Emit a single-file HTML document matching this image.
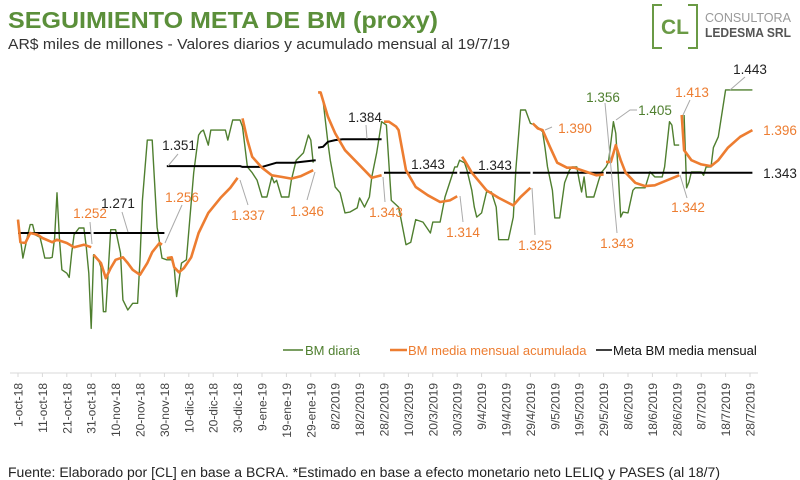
<!DOCTYPE html>
<html><head><meta charset="utf-8"><style>
html,body{margin:0;padding:0;background:#fff;}
svg{display:block;font-family:"Liberation Sans",sans-serif;}
</style></head><body>
<svg id="chart" width="800" height="480" viewBox="0 0 800 480">
<text x="8" y="28" font-size="23" font-weight="bold" fill="#5b8f3a" textLength="430" lengthAdjust="spacingAndGlyphs">SEGUIMIENTO META DE BM (proxy)</text>
<text x="8" y="49" font-size="15" fill="#333" textLength="502" lengthAdjust="spacingAndGlyphs">AR$ miles de millones - Valores diarios y acumulado mensual al 19/7/19</text>
<g>
<path d="M662,5 H653 V48 H662 M688,5 H697 V48 H688" fill="none" stroke="#6a9a45" stroke-width="2"/>
<text x="675" y="34" font-size="21" font-weight="bold" fill="#6a9a45" text-anchor="middle">CL</text>
<text x="705" y="22" font-size="12.5" fill="#999" textLength="86" lengthAdjust="spacingAndGlyphs">CONSULTORA</text>
<text x="705" y="37" font-size="13" font-weight="bold" fill="#555" textLength="86" lengthAdjust="spacingAndGlyphs">LEDESMA SRL</text>
</g>
<g id="plot"></g>
<g stroke="#aaa" stroke-width="1" fill="none">
<path d="M92,244 L90,222"/><path d="M128,232 L122,212"/><path d="M165,243 L182,205"/>
<path d="M168,166 L178,154"/><path d="M240,180 L248,205"/><path d="M315,172 L307,200"/>
<path d="M367,139 L366,125"/><path d="M383,177 L385,202"/><path d="M460,196 L463,222"/>
<path d="M532,188 L535,235"/><path d="M545,130 L552,127"/><path d="M605,103 L617,233"/>
<path d="M616,120 L630,110 L637,110"/><path d="M683,115 L690,100"/><path d="M730,90 L745,77"/>
<path d="M680,175 L687,198"/>
</g>
<g font-size="13.5" text-anchor="middle">
<text x="90" y="218" fill="#ed7d31">1.252</text>
<text x="118" y="208" fill="#222">1.271</text>
<text x="182" y="202" fill="#ed7d31">1.256</text>
<text x="179" y="150" fill="#222">1.351</text>
<text x="248" y="220" fill="#ed7d31">1.337</text>
<text x="307" y="216" fill="#ed7d31">1.346</text>
<text x="365" y="122" fill="#222">1.384</text>
<text x="386" y="217" fill="#ed7d31">1.343</text>
<text x="428" y="169" fill="#222">1.343</text>
<text x="495" y="170" fill="#222">1.343</text>
<text x="463" y="237" fill="#ed7d31">1.314</text>
<text x="535" y="250" fill="#ed7d31">1.325</text>
<text x="575" y="133" fill="#ed7d31">1.390</text>
<text x="603" y="102" fill="#4f7f2f">1.356</text>
<text x="617" y="248" fill="#ed7d31">1.343</text>
<text x="655" y="115" fill="#4f7f2f">1.405</text>
<text x="692" y="97" fill="#ed7d31">1.413</text>
<text x="750" y="74" fill="#222">1.443</text>
<text x="780" y="135" fill="#ed7d31">1.396</text>
<text x="780" y="178" fill="#222">1.343</text>
<text x="688" y="212" fill="#ed7d31">1.342</text>
</g>
<g font-size="13">
<line x1="283" y1="350" x2="303" y2="350" stroke="#4f7f2f" stroke-width="1.5"/>
<text x="305" y="355" fill="#4f7f2f">BM diaria</text>
<line x1="390" y1="350" x2="407" y2="350" stroke="#ed7d31" stroke-width="2.5"/>
<text x="408" y="355" fill="#ed7d31">BM media mensual acumulada</text>
<line x1="596" y1="350" x2="612" y2="350" stroke="#000" stroke-width="1.5"/>
<text x="613" y="355" fill="#111">Meta BM media mensual</text>
</g>
<text x="8" y="477" font-size="13.5" fill="#222" textLength="712" lengthAdjust="spacingAndGlyphs">Fuente: Elaborado por [CL] en base a BCRA. *Estimado en base a efecto monetario neto LELIQ y PASES (al 18/7)</text>
</svg>
<script>
const tickLabels = ["1-oct-18","11-oct-18","21-oct-18","31-oct-18","10-nov-18","20-nov-18","30-nov-18","10-dic-18","20-dic-18","30-dic-18","9-ene-19","19-ene-19","29-ene-19","8/2/2019","18/2/2019","28/2/2019","10/3/2019","20/3/2019","30/3/2019","9/4/2019","19/4/2019","29/4/2019","9/5/2019","19/5/2019","29/5/2019","8/6/2019","18/6/2019","28/6/2019","8/7/2019","18/7/2019","28/7/2019"];
const greenDays = [0,2,4,5,6,7,9,10,11,13,14,15,16,17,18,20,21,22,23,25,27,28,29,30,31,33,34,35,36,38,40,42,43,45,47,49,50,51,53,55,57,59,61,63,64,65,67,69,72,74,75,76,78,79,81,83,85,86,88,91,92,94,96,98,100,102,104,105,106,108,111,112,114,117,119,120,121,null,
125,127,128,130,132,134,136,139,140,142,144,145,147,149,151,153,156,157,159,161,163,166,169,170,173,175,177,179,180,181,183,184,186,187,188,190,192,194,196,197,201,203,204,206,208,210,212,215,216,217,219,220,222,224,226,227,229,230,231,232,233,236,238,239,241,242,244,245,246,247,248,250,252,253,257,259,261,264,265,267,268,269,271,null,273,274,275,276,280,281,282,284,285,287,290,301];
const greenVals = [1287,1241,1269,1281,1281,1269,1266,1254,1241,1241,1242,1265,1319,1263,1227,1223,1218,1247,1269,1277,1277,1254,1223,1157,1245,1239,1230,1177,1177,1275,1275,1247,1191,1179,1187,1187,1239,1310,1382,1382,1278,1241,1239,1239,1230,1195,1235,1239,1343,1388,1392,1394,1376,1394,1394,1394,1394,1382,1406,1406,1398,1350,1343,1334,1314,1314,1338,1331,1334,1314,1314,1334,1358,1367,1388,1382,1355,null,
1430,1379,1358,1326,1319,1295,1296,1301,1313,1302,1314,1338,1367,1404,1400,1310,1302,1287,1257,1260,1287,1284,1271,1284,1284,1314,1332,1350,1350,1358,1355,1346,1322,1302,1290,1295,1320,1320,1302,1263,1263,1290,1346,1418,1418,1402,1400,1392,1373,1350,1322,1289,1289,1331,1346,1350,1350,1334,1320,1338,1314,1314,1334,1343,1350,1356,1404,1390,1343,1290,1296,1295,1322,1325,1325,1344,1338,1338,1350,1404,1400,1376,1376,null,1412,1325,1332,1344,1344,1340,1350,1350,1373,1386,1442,1442];
const avgDays = [0,1,3,5,8,10,14,16,20,23,27,30,null,31,34,36,38,40,43,45,47,50,53,55,58,59,null,61,63,64,66,68,71,74,78,83,87,90,null,92,94,96,100,104,108,112,116,121,null,123,124,127,130,134,139,143,145,149,null,150,152,155,156,159,163,168,173,177,180,null,182,183,186,192,197,203,206,210,null,211,213,215,218,221,225,228,233,237,240,null,241,243,245,247,249,253,257,261,266,271,null,272,273,276,280,284,287,291,296,301];
const avgVals = [1287,1260,1259,1271,1269,1265,1260,1263,1259,1254,1257,1254,null,1245,1235,1217,1229,1239,1242,1235,1227,1221,1235,1248,1259,1257,null,1241,1242,1230,1224,1229,1242,1271,1295,1313,1325,1337,null,1408,1382,1362,1349,1340,1338,1336,1339,1346,null,1439,1439,1410,1390,1370,1355,1343,1337,1340,null,1404,1404,1398,1394,1346,1326,1316,1308,1310,1315,null,1362,1358,1343,1322,1313,1304,1314,1325,null,1402,1396,1394,1374,1355,1349,1349,1344,1340,1341,null,1356,1356,1376,1358,1343,1331,1327,1328,1334,1340,null,1412,1370,1358,1353,1351,1358,1373,1386,1394];
const metaDays = [0,30,null,31,60,null,61,91,92,100,106,113,122,null,123,125,127,130,133,149,null,150,180,null,181,210,null,211,240,null,241,271,null,272,301];
const metaVals = [1271,1271,null,1271,1271,null,1351,1351,1350,1350,1355,1355,1358,null,1373,1374,1380,1382,1383,1383,null,1343,1343,null,1343,1343,null,1343,1343,null,1343,1343,null,1343,1343];

const X0 = 18, PXD = 2.44;
function xScale(d){ return X0 + PXD*d; }
function yScale(v){ return 233 - (v-1271)/1.195; }
const NS = "http://www.w3.org/2000/svg";
const plot = document.getElementById('plot');

// axis
const axis = document.createElementNS(NS,'line');


axis.setAttribute('x1', 10); axis.setAttribute('x2', 758);
axis.setAttribute('y1', 373); axis.setAttribute('y2', 373);
axis.setAttribute('stroke', '#d9d9d9'); axis.setAttribute('stroke-width', 1);
plot.appendChild(axis);
tickLabels.forEach((t,i)=>{
  const x = xScale(i*10);
  const tk = document.createElementNS(NS,'line');
  
  
  tk.setAttribute('x1', x); tk.setAttribute('x2', x);
  tk.setAttribute('y1', 373); tk.setAttribute('y2', 377);
  tk.setAttribute('stroke', '#d9d9d9');
  plot.appendChild(tk);
  const tx = document.createElementNS(NS,'text');
  
  
  tx.setAttribute('transform', 'translate('+(x+4.5)+',383) rotate(-90)');
  tx.setAttribute('text-anchor', 'end');
  tx.setAttribute('font-size', '12');
  tx.setAttribute('fill', '#444');
  tx.textContent = t;
  plot.appendChild(tx);
});

function drawSeries(days, vals, color, width, name){
  let d = '', pen = false;
  for(let i=0;i<days.length;i++){
    if(days[i]===null || vals[i]===null){ pen=false; continue; }
    d += (pen?'L':'M') + xScale(days[i]).toFixed(1) + ',' + yScale(vals[i]).toFixed(1) + ' ';
    pen = true;
  }
  const p = document.createElementNS(NS,'path');
  
  
  p.setAttribute('d', d);
  p.setAttribute('fill', 'none');
  p.setAttribute('stroke', color);
  p.setAttribute('stroke-width', width);
  p.setAttribute('stroke-linejoin', 'round');
  plot.appendChild(p);
}
drawSeries(greenDays, greenVals, '#4f7f2f', 1.4, 'bm-diaria-line');
drawSeries(metaDays, metaVals, '#000', 2, 'meta-bm-line');
drawSeries(avgDays, avgVals, '#ed7d31', 2.6, 'bm-media-line');
</script>
</body></html>
